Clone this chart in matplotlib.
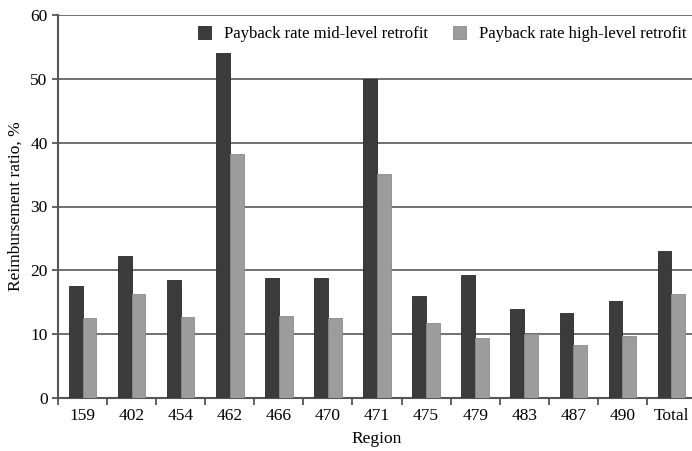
import matplotlib
matplotlib.use('Agg')
import matplotlib.pyplot as plt
import numpy as np

regions = ['159', '402', '454', '462', '466', '470', '471', '475', '479', '483', '487', '490', 'Total']
mid_level = [17.5, 22.2, 18.5, 54.0, 18.8, 18.8, 50.0, 16.0, 19.3, 14.0, 13.3, 15.2, 23.1]
high_level = [12.5, 16.3, 12.7, 38.2, 12.9, 12.5, 35.1, 11.7, 9.4, 10.1, 8.3, 9.7, 16.3]

plt.rcParams['font.family'] = ['Liberation Serif', 'DejaVu Serif']

fig = plt.figure(figsize=(6.92, 4.51), dpi=100)
ax = fig.add_axes([58 / 692, 1 - 398 / 451, 638 / 692, 383 / 451])

x = np.arange(len(regions))
w = 0.28
ax.bar(x - w / 2, mid_level, w, color='#3b3b3b', edgecolor='#2a2a2a', linewidth=0.6,
       label='Payback rate mid-level retrofit', zorder=3)
ax.bar(x + w / 2, high_level, w, color='#9c9c9c', edgecolor='#8a8a8a', linewidth=0.6,
       label='Payback rate high-level retrofit', zorder=3)

ax.set_ylim(0, 60)
ax.set_xlim(-0.5, len(regions) - 0.5)
ax.set_yticks(range(0, 61, 10))
ax.yaxis.grid(True, color='#707070', linewidth=1.4, zorder=0)
ax.set_axisbelow(True)

ax.set_xticks(x)
ax.set_xticklabels(regions)
ax.set_xticks(np.arange(-0.5, len(regions), 1), minor=True)
ax.tick_params(axis='x', which='major', length=0, pad=7, labelsize=12.5)
ax.tick_params(axis='x', which='minor', length=5, width=1.3, color='#555555', direction='out')
ax.tick_params(axis='y', length=4, width=1.3, color='#555555', labelsize=12.5)

for s in ['top', 'right']:
    ax.spines[s].set_visible(False)
ax.spines['left'].set_color('#555555')
ax.spines['left'].set_linewidth(1.5)
ax.spines['bottom'].set_color('#555555')
ax.spines['bottom'].set_linewidth(1.5)

ax.set_xlabel('Region', fontsize=12.5, labelpad=5)
ax.set_ylabel('Reimbursement ratio, %', fontsize=12.5, labelpad=5)

ax.legend(loc='upper right', bbox_to_anchor=(0.995, 0.988), borderaxespad=0, ncol=2,
          frameon=False, fontsize=12, handlelength=0.8, handleheight=0.8,
          columnspacing=1.5, handletextpad=0.75)

fig.savefig('out.png', dpi=100)
